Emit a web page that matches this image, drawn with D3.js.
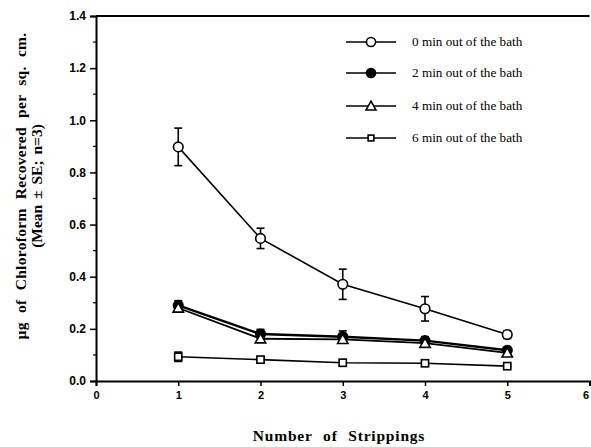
<!DOCTYPE html>
<html><head><meta charset="utf-8">
<script src="https://cdn.jsdelivr.net/npm/d3@7"></script>
<style>body{margin:0;background:#fff}svg{display:block}</style>
</head><body>
<svg id="c" width="591" height="447"></svg>
<script>
const strippings = [1, 2, 3, 4, 5];
const seriesNames = ["0 min out of the bath", "2 min out of the bath", "4 min out of the bath", "6 min out of the bath"];
const mean0 = [0.898, 0.547, 0.371, 0.277, 0.178];
const se0   = [0.072, 0.039, 0.058, 0.047, 0.015];
const mean2 = [0.290, 0.180, 0.170, 0.155, 0.118];
const se2   = [0.018, 0.018, 0.022, 0.015, 0.010];
const mean4 = [0.280, 0.162, 0.160, 0.145, 0.108];
const se4   = [0.015, 0.012, 0.012, 0.012, 0.010];
const mean6 = [0.093, 0.082, 0.070, 0.068, 0.057];
const se6   = [0.018, 0.006, 0.012, 0.006, 0.004];
const xTicks = [0, 1, 2, 3, 4, 5, 6];
const yTicks = [0.0, 0.2, 0.4, 0.6, 0.8, 1.0, 1.2, 1.4];
const yMinorTicks = [0.1, 0.3, 0.5, 0.7, 0.9, 1.1, 1.3];

const series = [
  {name: seriesNames[0], mean: mean0, se: se0, shape: "circle", fill: "#fff", lw: 1.6},
  {name: seriesNames[1], mean: mean2, se: se2, shape: "circle", fill: "#000", lw: 2.4},
  {name: seriesNames[2], mean: mean4, se: se4, shape: "triangle", fill: "#fff", lw: 1.8},
  {name: seriesNames[3], mean: mean6, se: se6, shape: "square", fill: "#fff", lw: 1.6}
];

const svg = d3.select("#c");
const x = d3.scaleLinear().domain([0, 6]).range([96, 589.5]);
const y = d3.scaleLinear().domain([0, 1.4]).range([381, 16]);

// axes
const yAxis = svg.append("g").attr("transform", `translate(${x(0)},0)`)
  .call(d3.axisLeft(y).tickValues(yTicks).tickFormat(d3.format(".1f")).tickSize(6).tickPadding(4));
yAxis.select(".domain").attr("stroke-width", 2);
yAxis.selectAll(".tick line").attr("stroke-width", 1.5);
yAxis.selectAll("text").attr("font-family", "Liberation Sans, Arial, sans-serif")
  .attr("font-weight", "bold").attr("font-size", 12).attr("fill", "#000");
svg.append("g").selectAll("line").data(yMinorTicks).join("line")
  .attr("x1", x(0)).attr("x2", x(0) - 3).attr("y1", d => y(d)).attr("y2", d => y(d))
  .attr("stroke", "#000").attr("stroke-width", 1.2);

const xAxis = svg.append("g").attr("transform", `translate(0,${y(0)})`)
  .call(d3.axisBottom(x).tickValues(xTicks).tickFormat(d3.format("d")).tickSize(5).tickPadding(5));
xAxis.select(".domain").attr("stroke-width", 2);
xAxis.selectAll(".tick line").attr("stroke-width", 1.5);
xAxis.selectAll("text").attr("font-family", "Liberation Sans, Arial, sans-serif")
  .attr("font-weight", "bold").attr("font-size", 11).attr("fill", "#000")
  .attr("dx", d => d === 6 ? -4 : 0);

// top frame line
svg.append("line").attr("x1", x(0)).attr("x2", x(6)).attr("y1", y(1.4)).attr("y2", y(1.4))
  .attr("stroke", "#000").attr("stroke-width", 2);

function marker(g, shape, fill, cx, cy, s) {
  if (shape === "circle") {
    g.append("circle").attr("cx", cx).attr("cy", cy).attr("r", 4.8 * s)
      .attr("fill", fill).attr("stroke", "#000").attr("stroke-width", 1.6);
  } else if (shape === "triangle") {
    const r = 5.2 * s;
    g.append("path").attr("d", `M${cx},${cy - r}L${cx + r},${cy + r * 0.8}L${cx - r},${cy + r * 0.8}Z`)
      .attr("fill", fill).attr("stroke", "#000").attr("stroke-width", 1.6);
  } else {
    const r = 3.6 * s;
    g.append("rect").attr("x", cx - r).attr("y", cy - r).attr("width", 2 * r).attr("height", 2 * r)
      .attr("fill", fill).attr("stroke", "#000").attr("stroke-width", 1.6);
  }
}

const line = d3.line().x((d, i) => x(strippings[i])).y(d => y(d));
series.forEach(s => {
  const g = svg.append("g");
  g.append("path").attr("d", line(s.mean)).attr("fill", "none")
    .attr("stroke", "#000").attr("stroke-width", s.lw);
  s.mean.forEach((m, i) => {
    const cx = x(strippings[i]);
    g.append("line").attr("x1", cx).attr("x2", cx).attr("y1", y(m + s.se[i])).attr("y2", y(m - s.se[i]))
      .attr("stroke", "#000").attr("stroke-width", 1.6);
    [m + s.se[i], m - s.se[i]].forEach(v => {
      g.append("line").attr("x1", cx - 4).attr("x2", cx + 4).attr("y1", y(v)).attr("y2", y(v))
        .attr("stroke", "#000").attr("stroke-width", 1.6);
    });
    marker(g, s.shape, s.fill, cx, y(m), 1);
  });
});

// legend
const legY = [42, 73, 106, 138];
series.forEach((s, i) => {
  const g = svg.append("g");
  g.append("line").attr("x1", 346).attr("x2", 396).attr("y1", legY[i]).attr("y2", legY[i])
    .attr("stroke", "#000").attr("stroke-width", 1.6);
  marker(g, s.shape, s.fill, 371, legY[i], s.shape === "square" ? 0.8 : 0.95);
  g.append("text").attr("x", 412).attr("y", legY[i] + 4).text(s.name)
    .attr("font-family", "Liberation Serif, Times New Roman, serif").attr("font-size", 13.2).attr("fill", "#000");
});

// titles
const serif = "Liberation Serif, Times New Roman, serif";
svg.append("text").attr("transform", "translate(26,186) rotate(-90)").attr("text-anchor", "middle")
  .attr("font-family", serif).attr("font-weight", "bold").attr("font-size", 15.5).attr("word-spacing", 5)
  .attr("letter-spacing", 0.3)
  .text("µg of Chloroform Recovered per sq. cm.");
svg.append("text").attr("transform", "translate(42,186) rotate(-90)").attr("text-anchor", "middle")
  .attr("font-family", serif).attr("font-weight", "bold").attr("font-size", 15.5).attr("word-spacing", 2)
  .text("(Mean ± SE; n=3)");
svg.append("text").attr("x", 339).attr("y", 441).attr("text-anchor", "middle")
  .attr("font-family", serif).attr("font-weight", "bold").attr("font-size", 15.5)
  .attr("letter-spacing", 0.8).attr("word-spacing", 6)
  .text("Number of Strippings");
</script>
</body></html>
